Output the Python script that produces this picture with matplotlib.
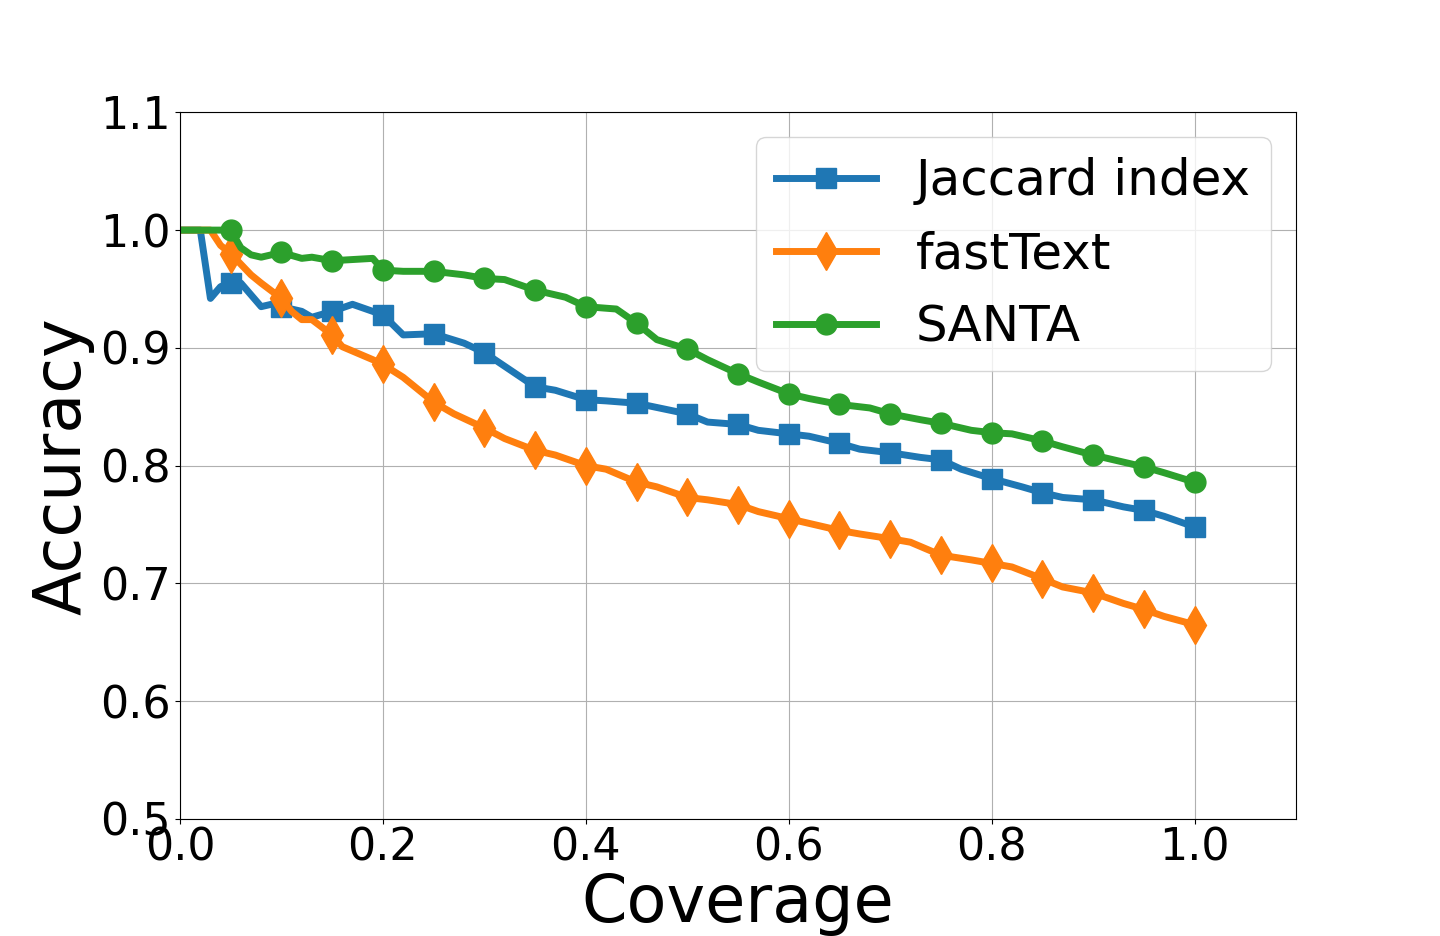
import matplotlib
matplotlib.use('Agg')
import matplotlib.pyplot as plt

# 数据
jaccardX = [0, 0.02, 0.03, 0.04, 0.05, 0.06, 0.08, 0.09, 0.1, 0.12, 0.13, 0.15, 0.17,
            0.2, 0.22, 0.25, 0.28, 0.3, 0.35, 0.37, 0.4, 0.42, 0.45, 0.5, 0.52, 0.55,
            0.57, 0.6, 0.62, 0.65, 0.67, 0.7, 0.73, 0.75, 0.77, 0.8, 0.83, 0.85, 0.87,
            0.9, 0.93, 0.95, 0.97, 1.0]
jaccardY = [1.0, 1.0, 0.942, 0.952, 0.955, 0.955, 0.935, 0.937, 0.935, 0.931, 0.926, 0.931, 0.937,
            0.928, 0.911, 0.912, 0.904, 0.896, 0.867, 0.864, 0.856, 0.855, 0.853, 0.844, 0.837, 0.835,
            0.830, 0.827, 0.825, 0.819, 0.814, 0.811, 0.807, 0.805, 0.797, 0.789, 0.782, 0.777, 0.773,
            0.771, 0.765, 0.762, 0.757, 0.748]

fastTextX = [0, 0.03, 0.04, 0.05, 0.07, 0.08, 0.1, 0.11, 0.12, 0.13, 0.15, 0.16, 0.19,
             0.2, 0.22, 0.25, 0.27, 0.3, 0.32, 0.35, 0.37, 0.4, 0.42, 0.45, 0.47, 0.5,
             0.52, 0.55, 0.57, 0.6, 0.62, 0.65, 0.67, 0.7, 0.72, 0.75, 0.78, 0.8, 0.82,
             0.85, 0.87, 0.9, 0.93, 0.95, 0.97, 1.0]
fastTextY = [1.0, 1.0, 0.987, 0.98, 0.962, 0.955, 0.942, 0.931, 0.924, 0.924, 0.911, 0.901, 0.89,
             0.886, 0.875, 0.854, 0.844, 0.832, 0.823, 0.813, 0.809, 0.8, 0.797, 0.786, 0.782, 0.773,
             0.771, 0.767, 0.761, 0.755, 0.751, 0.745, 0.742, 0.738, 0.735, 0.724, 0.720, 0.717, 0.714,
             0.704, 0.697, 0.692, 0.683, 0.678, 0.672, 0.665]

santaX = [0, 0.05, 0.06, 0.07, 0.08, 0.1, 0.12, 0.13, 0.15, 0.19, 0.2, 0.22, 0.25,
          0.28, 0.3, 0.32, 0.35, 0.38, 0.4, 0.43, 0.45, 0.47, 0.5, 0.52, 0.55, 0.57,
          0.6, 0.62, 0.65, 0.68, 0.7, 0.73, 0.75, 0.78, 0.8, 0.82, 0.85, 0.87, 0.9,
          0.93, 0.95, 0.97, 1.0]
santaY = [1.0, 1.0, 0.985, 0.979, 0.977, 0.981, 0.976, 0.977, 0.974, 0.976, 0.966, 0.965, 0.965,
          0.962, 0.959, 0.958, 0.949, 0.943, 0.935, 0.933, 0.921, 0.907, 0.899, 0.89, 0.878, 0.871,
          0.861, 0.857, 0.852, 0.849, 0.844, 0.839, 0.836, 0.830, 0.828, 0.827, 0.821, 0.816, 0.809,
          0.803, 0.799, 0.794, 0.786]

labels = ['Jaccard index', 'fastText', 'SANTA']
xTicks = [0.0, 0.2, 0.4, 0.6, 0.8, 1.0]
yTicks = [0.5, 0.6, 0.7, 0.8, 0.9, 1.0, 1.1]


# 只在 0.05 的倍数处画标记
def markIdx(xs):
  return [i for i, x in enumerate(xs) if x > 0 and round(x * 100) % 5 == 0]


plt.figure(figsize = (14.4, 9.36), dpi = 100)
plt.subplots_adjust(left = 0.125, right = 0.9, top = 0.88, bottom = 0.125)

plt.plot(jaccardX, jaccardY, marker = 's', markevery = markIdx(jaccardX),
  linewidth = 5, markersize = 15, color = 'tab:blue', label = labels[0])
plt.plot(fastTextX, fastTextY, marker = 'd', markevery = markIdx(fastTextX),
  linewidth = 5, markersize = 19, color = 'tab:orange', label = labels[1])
plt.plot(santaX, santaY, marker = 'o', markevery = markIdx(santaX),
  linewidth = 5, markersize = 15, color = 'tab:green', label = labels[2])

plt.xlim(0, 1.1)
plt.ylim(0.5, 1.1)
plt.xticks(xTicks, fontsize = 32)
plt.yticks(yTicks, fontsize = 32)
plt.tick_params(axis = 'x', pad = 2)
plt.xlabel('Coverage', fontsize = 47, labelpad = 2)
plt.ylabel('Accuracy', fontsize = 47)
plt.grid(True)
plt.legend(loc = 'upper right', fontsize = 36)

plt.savefig('out.png')
